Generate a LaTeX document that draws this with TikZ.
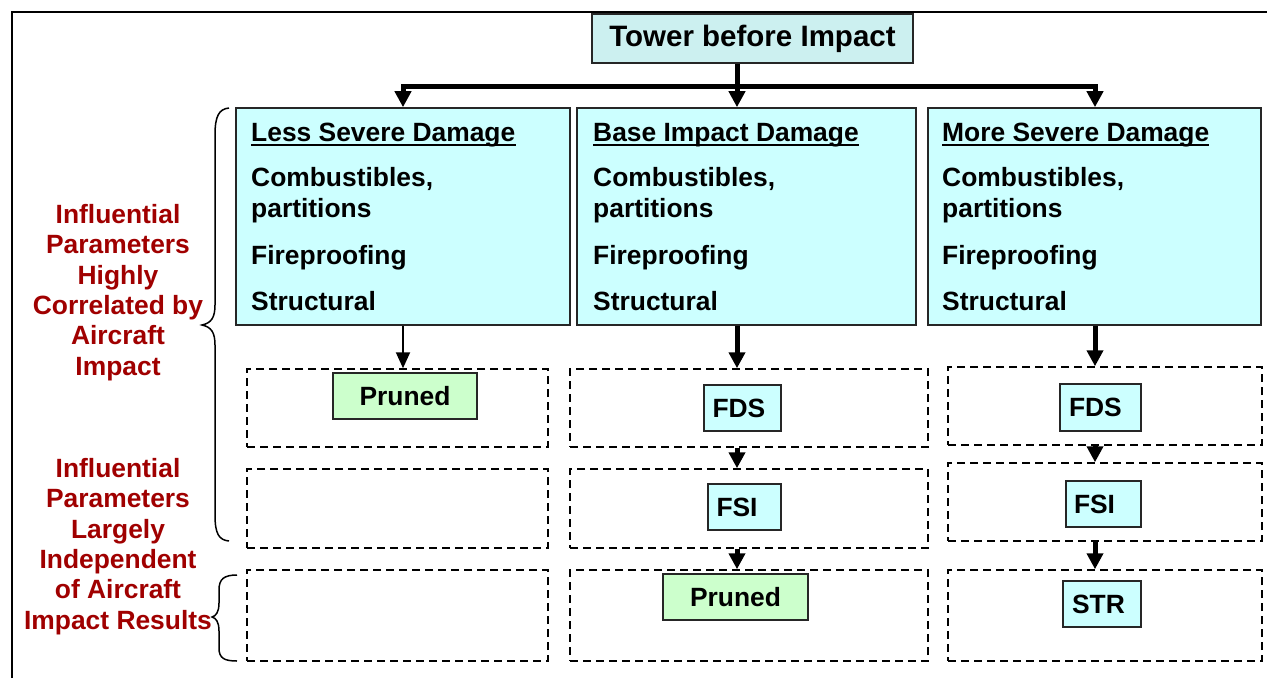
\documentclass[tikz,border=0pt]{standalone}
\usepackage{fontspec}
\setmainfont{Liberation Sans}
\usetikzlibrary{arrows.meta}
\definecolor{boxcyan}{RGB}{204,255,255}
\definecolor{titlecyan}{RGB}{204,240,240}
\definecolor{boxgreen}{RGB}{204,255,204}
\definecolor{labred}{RGB}{160,0,0}
\begin{document}
\begin{tikzpicture}[x=1pt,y=-1pt,
  bigtxt/.style={inner sep=0pt,font=\fontsize{26.4}{31}\selectfont\bfseries},
  labtxt/.style={inner sep=0pt,align=center,text=labred,font=\fontsize{26.4}{30.4}\selectfont\bfseries},
  solidbox/.style={draw=black!85,line width=1.6pt,inner sep=0pt,font=\fontsize{26.4}{31}\selectfont\bfseries},
  cyanbox/.style={solidbox,fill=boxcyan},
  greenbox/.style={solidbox,fill=boxgreen},
  dbox/.style={draw=black,line width=1.5pt,dash pattern=on 8pt off 5pt,inner sep=0pt},
  bigarr/.style={line width=5pt,-{Triangle[width=16pt,length=16pt]}},
  smallarr/.style={line width=2pt,-{Triangle[width=14pt,length=16pt]}},
  bracestyle/.style={line width=1.5pt},
  framestyle/.style={line width=2pt},
  ulstyle/.style={line width=2.2pt},
]
\useasboundingbox (0,0) rectangle (1267,678);
\draw[framestyle] (12,678) -- (12,12) -- (1267,12);

% title
\node[solidbox,fill=titlecyan,minimum width=321pt,minimum height=49pt,font=\fontsize{29.5}{34}\selectfont\bfseries] (tower) at (752.5,38.5) {Tower before Impact};

% damage boxes
\node[cyanbox,minimum width=334pt,minimum height=217pt] (less) at (403,216.5) {};
\node[cyanbox,minimum width=339pt,minimum height=217pt] (base) at (746.5,216.5) {};
\node[cyanbox,minimum width=333pt,minimum height=217pt] (more) at (1094.5,216.5) {};

\foreach \c/\x/\h in {l/251/Less Severe Damage, m/593/Base Impact Damage, r/942/More Severe Damage}{
  \node[bigtxt,anchor=base west] (\c h) at (\x,141) {\h};
  \draw[ulstyle] ([yshift=-4pt]\c h.base west) -- ([yshift=-4pt]\c h.base east);
  \node[bigtxt,anchor=base west] (\c c) at (\x,186) {Combustibles,};
  \node[bigtxt,anchor=base west] (\c p) at (\x,217) {partitions};
  \node[bigtxt,anchor=base west] (\c f) at (\x,264) {Fireproofing};
  \node[bigtxt,anchor=base west] (\c s) at (\x,310) {Structural};
}

% dashed rows
\node[dbox,minimum width=301pt,minimum height=78pt] (lr1) at (397.5,408) {};
\node[dbox,minimum width=301pt,minimum height=79pt] (lr2) at (397.5,508.5) {};
\node[dbox,minimum width=301pt,minimum height=91pt] (lr3) at (397.5,615.5) {};
\node[dbox,minimum width=358pt,minimum height=78pt] (mr1) at (749,408) {};
\node[dbox,minimum width=358pt,minimum height=79pt] (mr2) at (749,508.5) {};
\node[dbox,minimum width=358pt,minimum height=91pt] (mr3) at (749,615.5) {};
\node[dbox,minimum width=314pt,minimum height=78pt] (rr1) at (1105,406) {};
\node[dbox,minimum width=314pt,minimum height=78pt] (rr2) at (1105,502) {};
\node[dbox,minimum width=314pt,minimum height=91pt] (rr3) at (1105,615.5) {};

% inner boxes
\node[greenbox,minimum width=144pt,minimum height=46pt] (lpr) at (405,396) {Pruned};
\node[cyanbox,minimum width=77pt,minimum height=46pt,text width=60pt,align=left] (mfds) at (742.5,408) {FDS};
\node[cyanbox,minimum width=73pt,minimum height=46pt,text width=56pt,align=left] (mfsi) at (744.5,507) {FSI};
\node[greenbox,minimum width=145pt,minimum height=46pt] (mpr) at (735.5,597) {Pruned};
\node[cyanbox,minimum width=81pt,minimum height=47pt,text width=63pt,align=left] (rfds) at (1100.5,407.5) {FDS};
\node[cyanbox,minimum width=75pt,minimum height=46pt,text width=59pt,align=left] (rfsi) at (1103.5,504) {FSI};
\node[cyanbox,minimum width=78pt,minimum height=46pt,text width=60pt,align=left] (rstr) at (1102,604) {STR};

% connectors
\coordinate (j) at (737,86);
\coordinate (jl) at (403,86);
\coordinate (jr) at (1095,86);
\draw[bigarr] (tower.south -| j) -- (j |- base.north);
\draw[bigarr] (tower.south -| j) |- (jl) -- (jl |- less.north);
\draw[bigarr] (tower.south -| j) |- (jr) -- (jr |- more.north);
\draw[smallarr] (less.south -| jl) -- (lr1.north -| jl);
\draw[bigarr] (base.south -| j) -- (mr1.north -| j);
\draw[bigarr] (more.south -| jr) -- (rr1.north -| jr);
\draw[bigarr] (mr1.south -| j) -- (mr2.north -| j);
\draw[bigarr] (mr2.south -| j) -- (mr3.north -| j);
\draw[bigarr] (rr1.south -| jr) -- (rr2.north -| jr);
\draw[bigarr] (rr2.south -| jr) -- (rr3.north -| jr);

% braces
\draw[bracestyle] (229,108) .. controls (219,109) and (215,116) .. (215,135) -- (215,305)
  .. controls (215,318) and (211,323) .. (202,325)
  .. controls (211,327) and (215,332) .. (215,345) -- (215,515)
  .. controls (215,534) and (219,540) .. (229,541);
\draw[bracestyle] (237,575) .. controls (224,575) and (219,579) .. (219,590) -- (219,603)
  .. controls (219,612) and (216,616) .. (212,617)
  .. controls (216,618) and (219,622) .. (219,631) -- (219,648)
  .. controls (219,658) and (224,661) .. (237,661);

% labels
\node[labtxt,anchor=north] (lab1) at (118,204) {Influential\\Parameters\\Highly\\Correlated by\\Aircraft\\Impact};
\node[labtxt,anchor=north] (lab2) at (118,458) {Influential\\Parameters\\Largely\\Independent\\of Aircraft\\Impact Results};
\end{tikzpicture}
\end{document}
